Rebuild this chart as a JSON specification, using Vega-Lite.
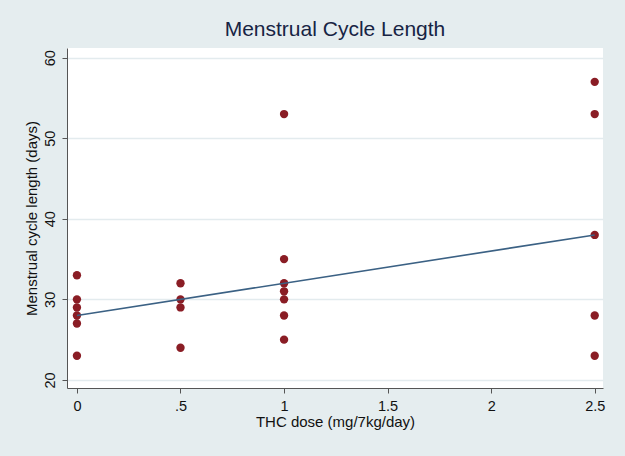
{
  "$schema": "https://vega.github.io/schema/vega-lite/v6.json",
  "width": 536,
  "height": 340,
  "autosize": {"type": "none"},
  "padding": {"left": 67, "top": 48, "right": 22, "bottom": 68},
  "background": "#e5edef",
  "config": {
    "font": "Liberation Sans",
    "view": {"fill": "#ffffff", "stroke": null},
    "axis": {
      "domainColor": "#555555",
      "tickColor": "#555555",
      "labelColor": "#111111",
      "titleColor": "#111111",
      "labelFontSize": 14.5,
      "titleFontSize": 15,
      "titleFontWeight": "normal",
      "tickSize": 5
    }
  },
  "title": {
    "text": "Menstrual Cycle Length",
    "fontSize": 21,
    "fontWeight": "normal",
    "color": "#172444",
    "anchor": "middle",
    "offset": 8
  },
  "datasets": {
    "points": [
      {"dose": 0, "length": 33},
      {"dose": 0, "length": 30},
      {"dose": 0, "length": 29},
      {"dose": 0, "length": 28},
      {"dose": 0, "length": 27},
      {"dose": 0, "length": 23},
      {"dose": 0.5, "length": 32},
      {"dose": 0.5, "length": 30},
      {"dose": 0.5, "length": 29},
      {"dose": 0.5, "length": 24},
      {"dose": 1, "length": 53},
      {"dose": 1, "length": 35},
      {"dose": 1, "length": 32},
      {"dose": 1, "length": 31},
      {"dose": 1, "length": 30},
      {"dose": 1, "length": 28},
      {"dose": 1, "length": 25},
      {"dose": 2.5, "length": 57},
      {"dose": 2.5, "length": 53},
      {"dose": 2.5, "length": 38},
      {"dose": 2.5, "length": 28},
      {"dose": 2.5, "length": 23}
    ],
    "fit": [
      {"dose": 0, "length": 28},
      {"dose": 2.5, "length": 38}
    ]
  },
  "layer": [
    {
      "data": {"name": "points"},
      "mark": {"type": "point", "filled": true, "shape": "circle", "size": 70, "color": "#8a1d25", "opacity": 1},
      "encoding": {
        "x": {
          "field": "dose",
          "type": "quantitative",
          "scale": {"domain": [-0.048, 2.54], "nice": false, "zero": false},
          "axis": {
            "title": "THC dose (mg/7kg/day)",
            "values": [0, 0.5, 1, 1.5, 2, 2.5],
            "labelExpr": "datum.value == 0.5 ? '.5' : format(datum.value, '~g')",
            "grid": false,
            "labelPadding": 6,
            "titlePadding": 2
          }
        },
        "y": {
          "field": "length",
          "type": "quantitative",
          "scale": {"domain": [19.0, 61.2], "nice": false, "zero": false},
          "axis": {
            "title": "Menstrual cycle length (days)",
            "values": [20, 30, 40, 50, 60],
            "grid": true,
            "gridColor": "#e3ebee",
            "gridWidth": 1.5,
            "labelAngle": -90,
            "labelAlign": "center",
            "labelBaseline": "bottom",
            "labelPadding": 5,
            "titlePadding": 3
          }
        }
      }
    },
    {
      "data": {"name": "fit"},
      "mark": {"type": "line", "color": "#3b6184", "strokeWidth": 1.6},
      "encoding": {
        "x": {"field": "dose", "type": "quantitative"},
        "y": {"field": "length", "type": "quantitative"}
      }
    }
  ]
}
